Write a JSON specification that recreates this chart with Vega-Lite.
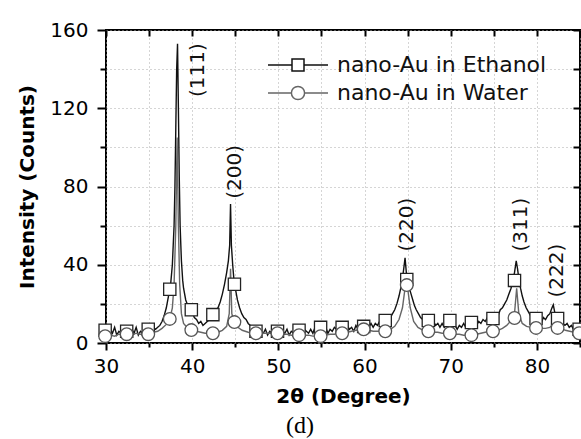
{
  "$schema": "https://vega.github.io/schema/vega-lite/v6.json",
  "width": 474,
  "height": 313,
  "autosize": {"type": "none"},
  "padding": {"left": 106, "top": 30, "right": 1, "bottom": 96},
  "background": "white",
  "config": {
    "view": {"stroke": "#000", "strokeWidth": 2},
    "font": "DejaVu Sans"
  },
  "title": {"text": "(d)", "orient": "bottom", "font": "Liberation Serif", "fontSize": 24, "fontWeight": "normal", "color": "#000", "dx": -43, "offset": 8},
  "datasets": {
    "lines": [
      {"x":30.0,"y":6,"series":"nano-Au in Ethanol"},{"x":30.25,"y":4,"series":"nano-Au in Ethanol"},{"x":30.5,"y":7,"series":"nano-Au in Ethanol"},{"x":30.75,"y":5,"series":"nano-Au in Ethanol"},{"x":31.0,"y":8,"series":"nano-Au in Ethanol"},{"x":31.25,"y":4,"series":"nano-Au in Ethanol"},{"x":31.5,"y":6,"series":"nano-Au in Ethanol"},{"x":31.75,"y":5,"series":"nano-Au in Ethanol"},{"x":32.0,"y":7,"series":"nano-Au in Ethanol"},{"x":32.25,"y":4,"series":"nano-Au in Ethanol"},{"x":32.5,"y":6,"series":"nano-Au in Ethanol"},{"x":32.75,"y":5,"series":"nano-Au in Ethanol"},{"x":33.0,"y":7,"series":"nano-Au in Ethanol"},{"x":33.25,"y":5,"series":"nano-Au in Ethanol"},{"x":33.5,"y":8,"series":"nano-Au in Ethanol"},{"x":33.75,"y":4,"series":"nano-Au in Ethanol"},{"x":34.0,"y":6,"series":"nano-Au in Ethanol"},{"x":34.25,"y":5,"series":"nano-Au in Ethanol"},{"x":34.5,"y":7,"series":"nano-Au in Ethanol"},{"x":34.75,"y":6,"series":"nano-Au in Ethanol"},{"x":35.0,"y":7,"series":"nano-Au in Ethanol"},{"x":35.25,"y":6,"series":"nano-Au in Ethanol"},{"x":35.5,"y":8,"series":"nano-Au in Ethanol"},{"x":35.75,"y":7,"series":"nano-Au in Ethanol"},{"x":36.0,"y":8,"series":"nano-Au in Ethanol"},{"x":36.25,"y":9,"series":"nano-Au in Ethanol"},{"x":36.5,"y":11,"series":"nano-Au in Ethanol"},{"x":36.75,"y":14,"series":"nano-Au in Ethanol"},{"x":37.0,"y":18,"series":"nano-Au in Ethanol"},{"x":37.25,"y":24,"series":"nano-Au in Ethanol"},{"x":37.5,"y":30,"series":"nano-Au in Ethanol"},{"x":37.7,"y":40,"series":"nano-Au in Ethanol"},{"x":37.9,"y":60,"series":"nano-Au in Ethanol"},{"x":38.0,"y":80,"series":"nano-Au in Ethanol"},{"x":38.1,"y":110,"series":"nano-Au in Ethanol"},{"x":38.2,"y":140,"series":"nano-Au in Ethanol"},{"x":38.3,"y":153,"series":"nano-Au in Ethanol"},{"x":38.4,"y":120,"series":"nano-Au in Ethanol"},{"x":38.5,"y":85,"series":"nano-Au in Ethanol"},{"x":38.6,"y":60,"series":"nano-Au in Ethanol"},{"x":38.75,"y":42,"series":"nano-Au in Ethanol"},{"x":38.9,"y":32,"series":"nano-Au in Ethanol"},{"x":39.0,"y":28,"series":"nano-Au in Ethanol"},{"x":39.25,"y":22,"series":"nano-Au in Ethanol"},{"x":39.5,"y":19,"series":"nano-Au in Ethanol"},{"x":39.75,"y":17,"series":"nano-Au in Ethanol"},{"x":40.0,"y":16,"series":"nano-Au in Ethanol"},{"x":40.25,"y":13,"series":"nano-Au in Ethanol"},{"x":40.5,"y":12,"series":"nano-Au in Ethanol"},{"x":40.75,"y":10,"series":"nano-Au in Ethanol"},{"x":41.0,"y":11,"series":"nano-Au in Ethanol"},{"x":41.25,"y":9,"series":"nano-Au in Ethanol"},{"x":41.5,"y":10,"series":"nano-Au in Ethanol"},{"x":41.75,"y":11,"series":"nano-Au in Ethanol"},{"x":42.0,"y":12,"series":"nano-Au in Ethanol"},{"x":42.25,"y":14,"series":"nano-Au in Ethanol"},{"x":42.5,"y":15,"series":"nano-Au in Ethanol"},{"x":42.75,"y":17,"series":"nano-Au in Ethanol"},{"x":43.0,"y":18,"series":"nano-Au in Ethanol"},{"x":43.25,"y":21,"series":"nano-Au in Ethanol"},{"x":43.5,"y":25,"series":"nano-Au in Ethanol"},{"x":43.75,"y":30,"series":"nano-Au in Ethanol"},{"x":44.0,"y":36,"series":"nano-Au in Ethanol"},{"x":44.2,"y":42,"series":"nano-Au in Ethanol"},{"x":44.35,"y":50,"series":"nano-Au in Ethanol"},{"x":44.45,"y":71,"series":"nano-Au in Ethanol"},{"x":44.55,"y":50,"series":"nano-Au in Ethanol"},{"x":44.7,"y":40,"series":"nano-Au in Ethanol"},{"x":44.85,"y":32,"series":"nano-Au in Ethanol"},{"x":45.0,"y":28,"series":"nano-Au in Ethanol"},{"x":45.25,"y":22,"series":"nano-Au in Ethanol"},{"x":45.5,"y":18,"series":"nano-Au in Ethanol"},{"x":45.75,"y":15,"series":"nano-Au in Ethanol"},{"x":46.0,"y":13,"series":"nano-Au in Ethanol"},{"x":46.25,"y":12,"series":"nano-Au in Ethanol"},{"x":46.5,"y":10,"series":"nano-Au in Ethanol"},{"x":46.75,"y":9,"series":"nano-Au in Ethanol"},{"x":47.0,"y":8,"series":"nano-Au in Ethanol"},{"x":47.25,"y":6,"series":"nano-Au in Ethanol"},{"x":47.5,"y":7,"series":"nano-Au in Ethanol"},{"x":47.75,"y":5,"series":"nano-Au in Ethanol"},{"x":48.0,"y":6,"series":"nano-Au in Ethanol"},{"x":48.25,"y":5,"series":"nano-Au in Ethanol"},{"x":48.5,"y":7,"series":"nano-Au in Ethanol"},{"x":48.75,"y":4,"series":"nano-Au in Ethanol"},{"x":49.0,"y":6,"series":"nano-Au in Ethanol"},{"x":49.25,"y":5,"series":"nano-Au in Ethanol"},{"x":49.5,"y":7,"series":"nano-Au in Ethanol"},{"x":49.75,"y":5,"series":"nano-Au in Ethanol"},{"x":50.0,"y":6,"series":"nano-Au in Ethanol"},{"x":50.25,"y":4,"series":"nano-Au in Ethanol"},{"x":50.5,"y":6,"series":"nano-Au in Ethanol"},{"x":50.75,"y":5,"series":"nano-Au in Ethanol"},{"x":51.0,"y":7,"series":"nano-Au in Ethanol"},{"x":51.25,"y":4,"series":"nano-Au in Ethanol"},{"x":51.5,"y":6,"series":"nano-Au in Ethanol"},{"x":51.75,"y":5,"series":"nano-Au in Ethanol"},{"x":52.0,"y":7,"series":"nano-Au in Ethanol"},{"x":52.25,"y":5,"series":"nano-Au in Ethanol"},{"x":52.5,"y":6,"series":"nano-Au in Ethanol"},{"x":52.75,"y":4,"series":"nano-Au in Ethanol"},{"x":53.0,"y":7,"series":"nano-Au in Ethanol"},{"x":53.25,"y":6,"series":"nano-Au in Ethanol"},{"x":53.5,"y":5,"series":"nano-Au in Ethanol"},{"x":53.75,"y":7,"series":"nano-Au in Ethanol"},{"x":54.0,"y":5,"series":"nano-Au in Ethanol"},{"x":54.25,"y":8,"series":"nano-Au in Ethanol"},{"x":54.5,"y":6,"series":"nano-Au in Ethanol"},{"x":54.75,"y":7,"series":"nano-Au in Ethanol"},{"x":55.0,"y":8,"series":"nano-Au in Ethanol"},{"x":55.25,"y":6,"series":"nano-Au in Ethanol"},{"x":55.5,"y":8,"series":"nano-Au in Ethanol"},{"x":55.75,"y":5,"series":"nano-Au in Ethanol"},{"x":56.0,"y":7,"series":"nano-Au in Ethanol"},{"x":56.25,"y":6,"series":"nano-Au in Ethanol"},{"x":56.5,"y":8,"series":"nano-Au in Ethanol"},{"x":56.75,"y":7,"series":"nano-Au in Ethanol"},{"x":57.0,"y":9,"series":"nano-Au in Ethanol"},{"x":57.25,"y":6,"series":"nano-Au in Ethanol"},{"x":57.5,"y":8,"series":"nano-Au in Ethanol"},{"x":57.75,"y":7,"series":"nano-Au in Ethanol"},{"x":58.0,"y":9,"series":"nano-Au in Ethanol"},{"x":58.25,"y":7,"series":"nano-Au in Ethanol"},{"x":58.5,"y":8,"series":"nano-Au in Ethanol"},{"x":58.75,"y":6,"series":"nano-Au in Ethanol"},{"x":59.0,"y":9,"series":"nano-Au in Ethanol"},{"x":59.25,"y":7,"series":"nano-Au in Ethanol"},{"x":59.5,"y":9,"series":"nano-Au in Ethanol"},{"x":59.75,"y":8,"series":"nano-Au in Ethanol"},{"x":60.0,"y":7,"series":"nano-Au in Ethanol"},{"x":60.25,"y":9,"series":"nano-Au in Ethanol"},{"x":60.5,"y":8,"series":"nano-Au in Ethanol"},{"x":60.75,"y":10,"series":"nano-Au in Ethanol"},{"x":61.0,"y":8,"series":"nano-Au in Ethanol"},{"x":61.25,"y":10,"series":"nano-Au in Ethanol"},{"x":61.5,"y":9,"series":"nano-Au in Ethanol"},{"x":61.75,"y":11,"series":"nano-Au in Ethanol"},{"x":62.0,"y":10,"series":"nano-Au in Ethanol"},{"x":62.25,"y":12,"series":"nano-Au in Ethanol"},{"x":62.5,"y":11,"series":"nano-Au in Ethanol"},{"x":62.75,"y":13,"series":"nano-Au in Ethanol"},{"x":63.0,"y":13,"series":"nano-Au in Ethanol"},{"x":63.25,"y":15,"series":"nano-Au in Ethanol"},{"x":63.5,"y":17,"series":"nano-Au in Ethanol"},{"x":63.75,"y":20,"series":"nano-Au in Ethanol"},{"x":64.0,"y":24,"series":"nano-Au in Ethanol"},{"x":64.2,"y":28,"series":"nano-Au in Ethanol"},{"x":64.4,"y":33,"series":"nano-Au in Ethanol"},{"x":64.55,"y":38,"series":"nano-Au in Ethanol"},{"x":64.7,"y":43.5,"series":"nano-Au in Ethanol"},{"x":64.85,"y":36,"series":"nano-Au in Ethanol"},{"x":65.0,"y":32,"series":"nano-Au in Ethanol"},{"x":65.2,"y":28,"series":"nano-Au in Ethanol"},{"x":65.4,"y":25,"series":"nano-Au in Ethanol"},{"x":65.6,"y":22,"series":"nano-Au in Ethanol"},{"x":65.8,"y":19,"series":"nano-Au in Ethanol"},{"x":66.0,"y":17,"series":"nano-Au in Ethanol"},{"x":66.25,"y":15,"series":"nano-Au in Ethanol"},{"x":66.5,"y":13,"series":"nano-Au in Ethanol"},{"x":66.75,"y":12,"series":"nano-Au in Ethanol"},{"x":67.0,"y":13,"series":"nano-Au in Ethanol"},{"x":67.25,"y":11,"series":"nano-Au in Ethanol"},{"x":67.5,"y":12,"series":"nano-Au in Ethanol"},{"x":67.75,"y":10,"series":"nano-Au in Ethanol"},{"x":68.0,"y":11,"series":"nano-Au in Ethanol"},{"x":68.25,"y":9,"series":"nano-Au in Ethanol"},{"x":68.5,"y":10,"series":"nano-Au in Ethanol"},{"x":68.75,"y":8,"series":"nano-Au in Ethanol"},{"x":69.0,"y":10,"series":"nano-Au in Ethanol"},{"x":69.25,"y":8,"series":"nano-Au in Ethanol"},{"x":69.5,"y":9,"series":"nano-Au in Ethanol"},{"x":69.75,"y":7,"series":"nano-Au in Ethanol"},{"x":70.0,"y":10,"series":"nano-Au in Ethanol"},{"x":70.25,"y":8,"series":"nano-Au in Ethanol"},{"x":70.5,"y":9,"series":"nano-Au in Ethanol"},{"x":70.75,"y":7,"series":"nano-Au in Ethanol"},{"x":71.0,"y":9,"series":"nano-Au in Ethanol"},{"x":71.25,"y":8,"series":"nano-Au in Ethanol"},{"x":71.5,"y":10,"series":"nano-Au in Ethanol"},{"x":71.75,"y":8,"series":"nano-Au in Ethanol"},{"x":72.0,"y":9,"series":"nano-Au in Ethanol"},{"x":72.25,"y":10,"series":"nano-Au in Ethanol"},{"x":72.5,"y":8,"series":"nano-Au in Ethanol"},{"x":72.75,"y":10,"series":"nano-Au in Ethanol"},{"x":73.0,"y":9,"series":"nano-Au in Ethanol"},{"x":73.25,"y":11,"series":"nano-Au in Ethanol"},{"x":73.5,"y":10,"series":"nano-Au in Ethanol"},{"x":73.75,"y":12,"series":"nano-Au in Ethanol"},{"x":74.0,"y":11,"series":"nano-Au in Ethanol"},{"x":74.25,"y":13,"series":"nano-Au in Ethanol"},{"x":74.5,"y":12,"series":"nano-Au in Ethanol"},{"x":74.75,"y":14,"series":"nano-Au in Ethanol"},{"x":75.0,"y":13,"series":"nano-Au in Ethanol"},{"x":75.25,"y":15,"series":"nano-Au in Ethanol"},{"x":75.5,"y":14,"series":"nano-Au in Ethanol"},{"x":75.75,"y":17,"series":"nano-Au in Ethanol"},{"x":76.0,"y":18,"series":"nano-Au in Ethanol"},{"x":76.25,"y":20,"series":"nano-Au in Ethanol"},{"x":76.5,"y":22,"series":"nano-Au in Ethanol"},{"x":76.75,"y":25,"series":"nano-Au in Ethanol"},{"x":77.0,"y":28,"series":"nano-Au in Ethanol"},{"x":77.2,"y":32,"series":"nano-Au in Ethanol"},{"x":77.4,"y":36,"series":"nano-Au in Ethanol"},{"x":77.6,"y":42,"series":"nano-Au in Ethanol"},{"x":77.75,"y":38,"series":"nano-Au in Ethanol"},{"x":77.9,"y":33,"series":"nano-Au in Ethanol"},{"x":78.1,"y":28,"series":"nano-Au in Ethanol"},{"x":78.3,"y":24,"series":"nano-Au in Ethanol"},{"x":78.5,"y":21,"series":"nano-Au in Ethanol"},{"x":78.75,"y":18,"series":"nano-Au in Ethanol"},{"x":79.0,"y":16,"series":"nano-Au in Ethanol"},{"x":79.25,"y":14,"series":"nano-Au in Ethanol"},{"x":79.5,"y":13,"series":"nano-Au in Ethanol"},{"x":79.75,"y":12,"series":"nano-Au in Ethanol"},{"x":80.0,"y":11,"series":"nano-Au in Ethanol"},{"x":80.25,"y":12,"series":"nano-Au in Ethanol"},{"x":80.5,"y":10,"series":"nano-Au in Ethanol"},{"x":80.75,"y":13,"series":"nano-Au in Ethanol"},{"x":81.0,"y":12,"series":"nano-Au in Ethanol"},{"x":81.25,"y":14,"series":"nano-Au in Ethanol"},{"x":81.5,"y":15,"series":"nano-Au in Ethanol"},{"x":81.75,"y":18,"series":"nano-Au in Ethanol"},{"x":81.9,"y":19.5,"series":"nano-Au in Ethanol"},{"x":82.1,"y":15,"series":"nano-Au in Ethanol"},{"x":82.3,"y":13,"series":"nano-Au in Ethanol"},{"x":82.5,"y":12,"series":"nano-Au in Ethanol"},{"x":82.75,"y":11,"series":"nano-Au in Ethanol"},{"x":83.0,"y":10,"series":"nano-Au in Ethanol"},{"x":83.25,"y":9,"series":"nano-Au in Ethanol"},{"x":83.5,"y":10,"series":"nano-Au in Ethanol"},{"x":83.75,"y":8,"series":"nano-Au in Ethanol"},{"x":84.0,"y":9,"series":"nano-Au in Ethanol"},{"x":84.25,"y":7,"series":"nano-Au in Ethanol"},{"x":84.5,"y":8,"series":"nano-Au in Ethanol"},{"x":84.75,"y":6,"series":"nano-Au in Ethanol"},{"x":85.0,"y":7,"series":"nano-Au in Ethanol"},
      {"x":30.0,"y":3.5,"series":"nano-Au in Water"},{"x":30.5,"y":4,"series":"nano-Au in Water"},{"x":31.0,"y":3.5,"series":"nano-Au in Water"},{"x":31.5,"y":4.5,"series":"nano-Au in Water"},{"x":32.0,"y":4,"series":"nano-Au in Water"},{"x":32.5,"y":4.5,"series":"nano-Au in Water"},{"x":33.0,"y":4,"series":"nano-Au in Water"},{"x":33.5,"y":5,"series":"nano-Au in Water"},{"x":34.0,"y":4.5,"series":"nano-Au in Water"},{"x":34.5,"y":4.5,"series":"nano-Au in Water"},{"x":35.0,"y":5,"series":"nano-Au in Water"},{"x":35.5,"y":5.5,"series":"nano-Au in Water"},{"x":36.0,"y":6,"series":"nano-Au in Water"},{"x":36.5,"y":7.5,"series":"nano-Au in Water"},{"x":37.0,"y":9.5,"series":"nano-Au in Water"},{"x":37.4,"y":12.3,"series":"nano-Au in Water"},{"x":37.7,"y":18,"series":"nano-Au in Water"},{"x":37.9,"y":30,"series":"nano-Au in Water"},{"x":38.1,"y":60,"series":"nano-Au in Water"},{"x":38.25,"y":105,"series":"nano-Au in Water"},{"x":38.4,"y":60,"series":"nano-Au in Water"},{"x":38.55,"y":30,"series":"nano-Au in Water"},{"x":38.75,"y":15,"series":"nano-Au in Water"},{"x":39.0,"y":10,"series":"nano-Au in Water"},{"x":39.5,"y":7.5,"series":"nano-Au in Water"},{"x":40.0,"y":6.5,"series":"nano-Au in Water"},{"x":40.5,"y":6,"series":"nano-Au in Water"},{"x":41.0,"y":5.5,"series":"nano-Au in Water"},{"x":41.5,"y":5,"series":"nano-Au in Water"},{"x":42.0,"y":5,"series":"nano-Au in Water"},{"x":42.5,"y":5,"series":"nano-Au in Water"},{"x":43.0,"y":5.5,"series":"nano-Au in Water"},{"x":43.5,"y":6.5,"series":"nano-Au in Water"},{"x":44.0,"y":8.5,"series":"nano-Au in Water"},{"x":44.3,"y":15,"series":"nano-Au in Water"},{"x":44.45,"y":38,"series":"nano-Au in Water"},{"x":44.6,"y":15,"series":"nano-Au in Water"},{"x":44.9,"y":10.5,"series":"nano-Au in Water"},{"x":45.3,"y":8,"series":"nano-Au in Water"},{"x":45.8,"y":6.5,"series":"nano-Au in Water"},{"x":46.5,"y":5.5,"series":"nano-Au in Water"},{"x":47.0,"y":5,"series":"nano-Au in Water"},{"x":47.5,"y":5,"series":"nano-Au in Water"},{"x":48.0,"y":5,"series":"nano-Au in Water"},{"x":48.5,"y":5,"series":"nano-Au in Water"},{"x":49.0,"y":5,"series":"nano-Au in Water"},{"x":49.5,"y":5,"series":"nano-Au in Water"},{"x":50.0,"y":5,"series":"nano-Au in Water"},{"x":50.5,"y":4.5,"series":"nano-Au in Water"},{"x":51.0,"y":4.5,"series":"nano-Au in Water"},{"x":51.5,"y":4,"series":"nano-Au in Water"},{"x":52.0,"y":4,"series":"nano-Au in Water"},{"x":52.5,"y":4,"series":"nano-Au in Water"},{"x":53.0,"y":4,"series":"nano-Au in Water"},{"x":53.5,"y":4,"series":"nano-Au in Water"},{"x":54.0,"y":3.5,"series":"nano-Au in Water"},{"x":54.5,"y":3.5,"series":"nano-Au in Water"},{"x":55.0,"y":3.5,"series":"nano-Au in Water"},{"x":55.5,"y":4,"series":"nano-Au in Water"},{"x":56.0,"y":4.5,"series":"nano-Au in Water"},{"x":56.5,"y":4.5,"series":"nano-Au in Water"},{"x":57.0,"y":5,"series":"nano-Au in Water"},{"x":57.5,"y":5,"series":"nano-Au in Water"},{"x":58.0,"y":5.5,"series":"nano-Au in Water"},{"x":58.5,"y":6,"series":"nano-Au in Water"},{"x":59.0,"y":6.5,"series":"nano-Au in Water"},{"x":59.5,"y":7,"series":"nano-Au in Water"},{"x":60.0,"y":7,"series":"nano-Au in Water"},{"x":60.5,"y":6.5,"series":"nano-Au in Water"},{"x":61.0,"y":6,"series":"nano-Au in Water"},{"x":61.5,"y":6,"series":"nano-Au in Water"},{"x":62.0,"y":6,"series":"nano-Au in Water"},{"x":62.5,"y":6,"series":"nano-Au in Water"},{"x":63.0,"y":7,"series":"nano-Au in Water"},{"x":63.5,"y":8.5,"series":"nano-Au in Water"},{"x":64.0,"y":12,"series":"nano-Au in Water"},{"x":64.4,"y":18,"series":"nano-Au in Water"},{"x":64.7,"y":28,"series":"nano-Au in Water"},{"x":64.85,"y":30,"series":"nano-Au in Water"},{"x":65.0,"y":28,"series":"nano-Au in Water"},{"x":65.3,"y":18,"series":"nano-Au in Water"},{"x":65.7,"y":11,"series":"nano-Au in Water"},{"x":66.2,"y":8,"series":"nano-Au in Water"},{"x":66.8,"y":6.5,"series":"nano-Au in Water"},{"x":67.4,"y":6,"series":"nano-Au in Water"},{"x":68.0,"y":5.5,"series":"nano-Au in Water"},{"x":68.5,"y":5.5,"series":"nano-Au in Water"},{"x":69.0,"y":5,"series":"nano-Au in Water"},{"x":69.5,"y":5,"series":"nano-Au in Water"},{"x":70.0,"y":5,"series":"nano-Au in Water"},{"x":70.5,"y":4.5,"series":"nano-Au in Water"},{"x":71.0,"y":4.5,"series":"nano-Au in Water"},{"x":71.5,"y":4,"series":"nano-Au in Water"},{"x":72.0,"y":4,"series":"nano-Au in Water"},{"x":72.5,"y":4,"series":"nano-Au in Water"},{"x":73.0,"y":4.5,"series":"nano-Au in Water"},{"x":73.5,"y":5,"series":"nano-Au in Water"},{"x":74.0,"y":5.5,"series":"nano-Au in Water"},{"x":74.5,"y":6,"series":"nano-Au in Water"},{"x":75.0,"y":6,"series":"nano-Au in Water"},{"x":75.5,"y":6.5,"series":"nano-Au in Water"},{"x":76.0,"y":7.5,"series":"nano-Au in Water"},{"x":76.5,"y":9,"series":"nano-Au in Water"},{"x":77.0,"y":11.5,"series":"nano-Au in Water"},{"x":77.4,"y":15,"series":"nano-Au in Water"},{"x":77.65,"y":28,"series":"nano-Au in Water"},{"x":77.9,"y":15,"series":"nano-Au in Water"},{"x":78.3,"y":10,"series":"nano-Au in Water"},{"x":78.8,"y":8.5,"series":"nano-Au in Water"},{"x":79.3,"y":8,"series":"nano-Au in Water"},{"x":79.9,"y":7.7,"series":"nano-Au in Water"},{"x":80.5,"y":7.5,"series":"nano-Au in Water"},{"x":81.0,"y":7.5,"series":"nano-Au in Water"},{"x":81.5,"y":8,"series":"nano-Au in Water"},{"x":81.9,"y":10,"series":"nano-Au in Water"},{"x":82.3,"y":8,"series":"nano-Au in Water"},{"x":82.8,"y":7.5,"series":"nano-Au in Water"},{"x":83.3,"y":6.5,"series":"nano-Au in Water"},{"x":83.8,"y":6,"series":"nano-Au in Water"},{"x":84.3,"y":5.5,"series":"nano-Au in Water"},{"x":85.0,"y":5,"series":"nano-Au in Water"}
    ],
    "markers": [
      {"x":29.9,"y":6.5,"series":"nano-Au in Ethanol"},{"x":32.4,"y":6,"series":"nano-Au in Ethanol"},{"x":34.9,"y":7,"series":"nano-Au in Ethanol"},{"x":37.4,"y":27.5,"series":"nano-Au in Ethanol"},{"x":39.9,"y":17,"series":"nano-Au in Ethanol"},{"x":42.4,"y":14.5,"series":"nano-Au in Ethanol"},{"x":44.9,"y":30,"series":"nano-Au in Ethanol"},{"x":47.4,"y":6,"series":"nano-Au in Ethanol"},{"x":49.9,"y":6,"series":"nano-Au in Ethanol"},{"x":52.4,"y":6.5,"series":"nano-Au in Ethanol"},{"x":54.9,"y":8,"series":"nano-Au in Ethanol"},{"x":57.4,"y":8,"series":"nano-Au in Ethanol"},{"x":59.9,"y":8.5,"series":"nano-Au in Ethanol"},{"x":62.4,"y":11.5,"series":"nano-Au in Ethanol"},{"x":64.9,"y":32.5,"series":"nano-Au in Ethanol"},{"x":67.4,"y":11.5,"series":"nano-Au in Ethanol"},{"x":69.9,"y":11.5,"series":"nano-Au in Ethanol"},{"x":72.4,"y":10.5,"series":"nano-Au in Ethanol"},{"x":74.9,"y":12.5,"series":"nano-Au in Ethanol"},{"x":77.4,"y":32,"series":"nano-Au in Ethanol"},{"x":79.9,"y":12.5,"series":"nano-Au in Ethanol"},{"x":82.4,"y":12.5,"series":"nano-Au in Ethanol"},{"x":84.9,"y":7,"series":"nano-Au in Ethanol"},
      {"x":29.9,"y":3.5,"series":"nano-Au in Water"},{"x":32.4,"y":4.5,"series":"nano-Au in Water"},{"x":34.9,"y":4.5,"series":"nano-Au in Water"},{"x":37.4,"y":12.3,"series":"nano-Au in Water"},{"x":39.9,"y":6.6,"series":"nano-Au in Water"},{"x":42.4,"y":5,"series":"nano-Au in Water"},{"x":44.9,"y":10.7,"series":"nano-Au in Water"},{"x":47.4,"y":5,"series":"nano-Au in Water"},{"x":49.9,"y":5,"series":"nano-Au in Water"},{"x":52.4,"y":4,"series":"nano-Au in Water"},{"x":54.9,"y":3.5,"series":"nano-Au in Water"},{"x":57.4,"y":5,"series":"nano-Au in Water"},{"x":59.9,"y":7,"series":"nano-Au in Water"},{"x":62.4,"y":6,"series":"nano-Au in Water"},{"x":64.9,"y":29.6,"series":"nano-Au in Water"},{"x":67.4,"y":6,"series":"nano-Au in Water"},{"x":69.9,"y":5,"series":"nano-Au in Water"},{"x":72.4,"y":4,"series":"nano-Au in Water"},{"x":74.9,"y":6,"series":"nano-Au in Water"},{"x":77.4,"y":12.8,"series":"nano-Au in Water"},{"x":79.9,"y":7.7,"series":"nano-Au in Water"},{"x":82.4,"y":7.7,"series":"nano-Au in Water"},{"x":84.9,"y":5,"series":"nano-Au in Water"}
    ],
    "labels": [
      {"x":40.7,"y":139.5,"label":"(111)"},
      {"x":45.0,"y":87.5,"label":"(200)"},
      {"x":64.9,"y":60.5,"label":"(220)"},
      {"x":78.1,"y":60.5,"label":"(311)"},
      {"x":82.3,"y":37,"label":"(222)"}
    ]
  },
  "layer": [
    {
      "data": {"name": "lines"},
      "mark": {"type": "line", "strokeWidth": 1.4},
      "encoding": {
        "x": {"field": "x", "type": "quantitative", "scale": {"domain": [30, 85], "nice": false, "zero": false},
          "axis": {"orient": "bottom", "values": [30,35,40,45,50,55,60,65,70,75,80,85], "labelExpr": "datum.value % 10 == 0 ? datum.label : ''",
            "title": "2θ (Degree)", "titleFont": "DejaVu Sans", "titleFontSize": 20, "titleFontWeight": "bold", "titleColor": "#000", "titlePadding": 10,
            "labelFont": "DejaVu Sans", "labelFontSize": 20, "labelColor": "#000", "labelPadding": 6, "labelFlush": false,
            "domain": false, "ticks": true, "tickColor": "#000", "tickWidth": 2,
            "tickSize": {"condition": {"test": "datum.value % 10 == 0", "value": 7}, "value": 4},
            "grid": true, "gridColor": "#aaa", "gridDash": [1, 3], "gridWidth": 1}},
        "y": {"field": "y", "type": "quantitative", "scale": {"domain": [0, 160], "nice": false},
          "axis": {"orient": "left", "values": [0,20,40,60,80,100,120,140,160], "labelExpr": "datum.value % 40 == 0 ? datum.label : ''",
            "title": "Intensity (Counts)", "titleFont": "DejaVu Sans", "titleFontSize": 20, "titleFontWeight": "bold", "titleColor": "#000", "titlePadding": 12,
            "labelFont": "DejaVu Sans", "labelFontSize": 20, "labelColor": "#000", "labelPadding": 9, "labelFlush": false,
            "domain": false, "ticks": true, "tickColor": "#000", "tickWidth": 2,
            "tickSize": {"condition": {"test": "datum.value % 40 == 0", "value": 9}, "value": 6},
            "grid": true, "gridColor": "#aaa", "gridDash": [1, 3], "gridWidth": 1}},
        "color": {"field": "series", "type": "nominal",
          "scale": {"domain": ["nano-Au in Ethanol", "nano-Au in Water"], "range": ["#111111", "#666666"]},
          "legend": {"orient": "none", "legendX": 161, "legendY": 22, "title": null, "padding": 0,
            "labelFont": "DejaVu Sans", "labelFontSize": 22, "labelColor": "#111", "labelOffset": 8, "labelLimit": 0, "rowPadding": 2,
            "clipHeight": 26, "symbolStrokeWidth": 1.5,
            "encode": {"symbols": {"update": {
              "shape": {"signal": "datum.value === 'nano-Au in Ethanol' ? 'M-1,0H-0.2M0.2,0H1M-0.2,-0.2H0.2V0.2H-0.2Z' : 'M-1,0H-0.22M0.22,0H1M-0.22,0C-0.22,-0.1214,-0.1214,-0.22,0,-0.22C0.1214,-0.22,0.22,-0.1214,0.22,0C0.22,0.1214,0.1214,0.22,0,0.22C-0.1214,0.22,-0.22,0.1214,-0.22,0Z'"},
              "fill": {"value": "white"}, "size": {"value": 3600}, "opacity": {"value": 1}}}}}}
      }
    },
    {
      "data": {"name": "markers"},
      "transform": [{"filter": "datum.series === 'nano-Au in Ethanol'"}],
      "mark": {"type": "point", "shape": "square", "filled": false, "fill": "white", "fillOpacity": 1, "opacity": 1, "stroke": "#222222", "strokeWidth": 1.3, "size": 150},
      "encoding": {
        "x": {"field": "x", "type": "quantitative", "scale": {"domain": [30, 85], "nice": false, "zero": false},
          "axis": {"orient": "top", "values": [30,35,40,45,50,55,60,65,70,75,80,85], "labels": false, "title": null, "domain": false, "grid": false,
            "ticks": true, "tickColor": "#000", "tickWidth": 2, "tickSize": 6, "offset": -6, "zindex": 2}},
        "y": {"field": "y", "type": "quantitative", "scale": {"domain": [0, 160], "nice": false},
          "axis": {"orient": "right", "values": [0,20,40,60,80,100,120,140,160], "labels": false, "title": null, "domain": false, "grid": false,
            "ticks": true, "tickColor": "#000", "tickWidth": 2, "tickSize": 7, "offset": -7, "zindex": 2}}
      }
    },
    {
      "data": {"name": "markers"},
      "transform": [{"filter": "datum.series === 'nano-Au in Water'"}],
      "mark": {"type": "point", "shape": "circle", "filled": false, "fill": "white", "fillOpacity": 1, "opacity": 1, "stroke": "#555555", "strokeWidth": 1.3, "size": 160},
      "encoding": {
        "x": {"field": "x", "type": "quantitative", "scale": {"domain": [30, 85], "nice": false, "zero": false}, "axis": null},
        "y": {"field": "y", "type": "quantitative", "scale": {"domain": [0, 160], "nice": false}, "axis": null}
      }
    },
    {
      "data": {"name": "labels"},
      "mark": {"type": "text", "angle": 270, "font": "DejaVu Sans", "fontSize": 20, "color": "#111", "align": "center", "baseline": "middle"},
      "encoding": {
        "x": {"field": "x", "type": "quantitative", "scale": {"domain": [30, 85], "nice": false, "zero": false}, "axis": null},
        "y": {"field": "y", "type": "quantitative", "scale": {"domain": [0, 160], "nice": false}, "axis": null},
        "text": {"field": "label"}
      }
    }
  ],
  "resolve": {"axis": {"x": "independent", "y": "independent"}}
}
